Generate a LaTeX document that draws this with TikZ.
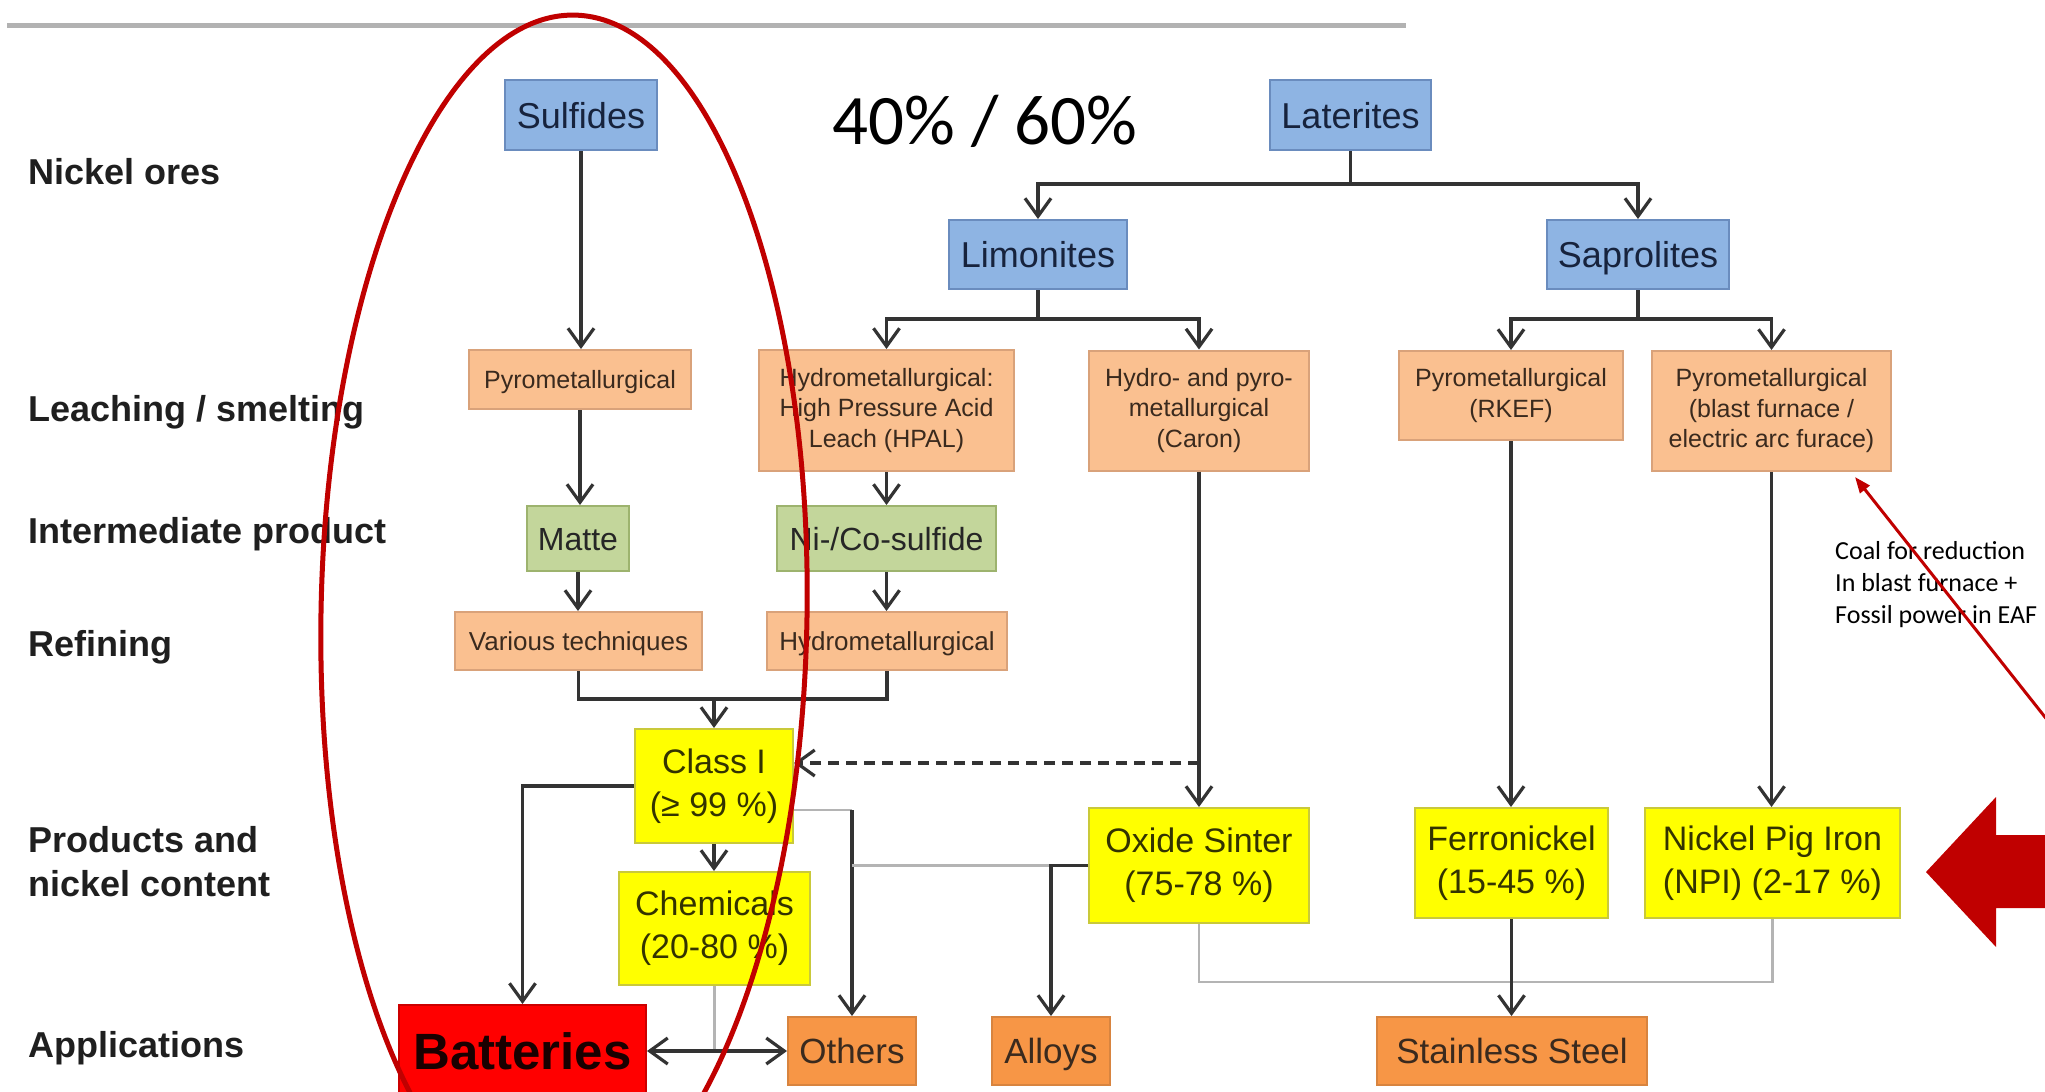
\documentclass[tikz,border=0pt]{standalone}
\usepackage{fontspec}
\setmainfont{Liberation Sans}
\newfontfamily\calfont{Carlito}
\usetikzlibrary{arrows.meta}

\definecolor{bluefill}{HTML}{8EB4E3}
\definecolor{blueedge}{HTML}{6A8CBE}
\definecolor{bluetext}{HTML}{17233D}
\definecolor{peach}{HTML}{FAC090}
\definecolor{peachedge}{HTML}{D9A27A}
\definecolor{peachtext}{HTML}{3A2A1E}
\definecolor{greenfill}{HTML}{C3D69B}
\definecolor{greenedge}{HTML}{9DB36E}
\definecolor{yel}{HTML}{FFFF00}
\definecolor{yeledge}{HTML}{C9C93A}
\definecolor{yeltext}{HTML}{333300}
\definecolor{apporange}{HTML}{F79646}
\definecolor{appedge}{HTML}{D8843F}
\definecolor{battred}{HTML}{FF0000}
\definecolor{darkred}{HTML}{C00000}
\definecolor{linegray}{HTML}{333333}
\definecolor{lightgray}{HTML}{B4B4B4}

\tikzset{
  sz/.style 2 args={minimum width=#1pt, minimum height=#2pt},
  box/.style={draw, line width=2pt, inner sep=0pt, align=center},
  oneline/.style={text height=#1pt, text depth=0pt},
  orebox/.style={box, oneline=26, fill=bluefill, draw=blueedge, text=bluetext, font=\fontsize{36}{43}\selectfont},
  procbox/.style={box, fill=peach, draw=peachedge, text=peachtext, font=\fontsize{25}{30.5}\selectfont},
  interbox/.style={box, oneline=23, fill=greenfill, draw=greenedge, text=black!85, font=\fontsize{32}{38}\selectfont},
  prodbox/.style={box, fill=yel, draw=yeledge, text=yeltext, font=\fontsize{34}{43}\selectfont},
  appbox/.style={box, oneline=25, fill=apporange, draw=appedge, text=peachtext, font=\fontsize{35}{42}\selectfont},
  rowlabel/.style={anchor=base west, inner sep=0pt, font=\bfseries\fontsize{36}{44}\selectfont, text=black!88},
  barb/.tip={Straight Barb[length=18pt,width=26pt,line width=3.2pt]},
  conn/.style={draw=linegray, line width=3.3pt, -barb},
  plainline/.style={draw=linegray, line width=3.3pt},
  faintline/.style={draw=lightgray, line width=2.4pt},
  redline/.style={draw=darkred, line width=5pt},
}

\begin{document}
\begin{tikzpicture}[x=1pt, y=-1pt]
\useasboundingbox (0,0) rectangle (2045,1092);
\fill[white] (0,0) rectangle (2045,1092);
\clip (0,0) rectangle (2045,1092);

% top rule
\draw[line width=5pt, draw=black!30] (7,25) -- (1406,25);

% row labels
\node[rowlabel] (lOres) at (28,184) {Nickel ores};
\node[rowlabel] (lLeach) at (28,421) {Leaching / smelting};
\node[rowlabel] (lInter) at (28,543) {Intermediate product};
\node[rowlabel] (lRef) at (28,656) {Refining};
\node[rowlabel] (lProd1) at (28,852) {Products and};
\node[rowlabel] (lProd2) at (28,896) {nickel content};
\node[rowlabel] (lApp) at (28,1057) {Applications};

% ores
\node[orebox, sz={152}{70}] (sulf) at (581,115) {Sulfides};
\node[orebox, sz={161}{70}] (lat) at (1350.5,115) {Laterites};
\node[orebox, sz={178}{69}] (limo) at (1038,254.5) {Limonites};
\node[orebox, sz={182}{69}] (sapro) at (1638,254.5) {Saprolites};

% leaching / smelting
\node[procbox, oneline=18, sz={222}{59}] (pyro1) at (580,379.5) {Pyrometallurgical};
\node[procbox, sz={255}{121}] (hpal) at (886.5,410.5) {Hydrometallurgical:\\High Pressure Acid\\Leach (HPAL)};
\node[procbox, sz={220}{120}] (caron) at (1199,410.5) {Hydro- and pyro-\\metallurgical\\(Caron)};
\node[procbox, sz={224}{89}] (rkef) at (1511,395.5) {Pyrometallurgical\\(RKEF)};
\node[procbox, sz={239}{120}] (bf) at (1771.5,411) {Pyrometallurgical\\(blast furnace /\\electric arc furace)};

% intermediate
\node[interbox, sz={102}{65}] (matte) at (578,538.5) {Matte};
\node[interbox, sz={219}{65}] (nico) at (886.5,538.5) {Ni-/Co-sulfide};

% refining
\node[procbox, oneline=19, sz={247}{58}, font=\fontsize{26}{30}\selectfont] (vari) at (578.5,641) {Various techniques};
\node[procbox, oneline=19, sz={240}{58}, font=\fontsize{26}{30}\selectfont] (hydro) at (887,641) {Hydrometallurgical};

% products
\node[prodbox, sz={158}{114}] (classI) at (714,786) {Class I\\(≥ 99 \%)};
\node[prodbox, sz={191}{113}] (chem) at (714.5,928.5) {Chemicals\\(20-80 \%)};
\node[prodbox, sz={220}{115}] (oxide) at (1199,865.5) {Oxide Sinter\\(75-78 \%)};
\node[prodbox, sz={193}{110}] (ferro) at (1511.5,863) {Ferronickel\\(15-45 \%)};
\node[prodbox, sz={255}{110}] (npi) at (1772.5,863) {Nickel Pig Iron\\(NPI) (2-17 \%)};

% applications
\node[box, oneline=37, fill=battred, draw=red!80!black, text=black!90!red, font=\bfseries\fontsize{51}{52}\selectfont, sz={247}{92}] (batt) at (522.5,1051) {Batteries};
\node[appbox, sz={128}{68}] (others) at (852,1051) {Others};
\node[appbox, sz={118}{68}] (alloys) at (1051,1051) {Alloys};
\node[appbox, sz={270}{68}] (steel) at (1512,1051) {Stainless Steel};

% junctions
\coordinate (latj) at (1350.5,184);
\coordinate (limj) at (1038,319);
\coordinate (sapj) at (1638,319);
\coordinate (refj) at (714,699);
\coordinate (dashj) at (1199,763);
\coordinate (othj) at (852,810);
\coordinate (steelj) at (1199,982);

% connectors
\draw[conn] (sulf.south) -- (sulf.south |- pyro1.north);
\draw[plainline] (lat.south) -- (latj);
\draw[conn] (latj) -| (limo.north);
\draw[conn] (latj) -| (sapro.north);
\draw[plainline] (limo.south) -- (limj);
\draw[conn] (limj) -| (hpal.north);
\draw[conn] (limj) -| (caron.north);
\draw[plainline] (sapro.south) -- (sapj);
\draw[conn] (sapj) -| (rkef.north);
\draw[conn] (sapj) -| (bf.north);

\draw[conn] (pyro1.south) -- (pyro1.south |- matte.north);
\draw[conn] (hpal.south) -- (hpal.south |- nico.north);
\draw[conn] (matte.south) -- (matte.south |- vari.north);
\draw[conn] (nico.south) -- (nico.south |- hydro.north);
\draw[plainline] (vari.south) |- (refj) -| (hydro.south);
\draw[conn] (refj) -- (classI.north);
\draw[conn] (classI.south) -- (classI.south |- chem.north);

\draw[conn] (caron.south) -- (oxide.north);
\draw[conn, dash pattern=on 11pt off 7pt] (dashj) -- (dashj -| classI.east);
\draw[conn] (rkef.south) -- (rkef.south |- ferro.north);
\draw[conn] (bf.south) -- (bf.south |- npi.north);

\draw[conn] (classI.west) -| (batt.north);
\draw[faintline] (classI.east |- othj) -- (othj);
\draw[conn] (othj) -- (othj |- others.north);
\draw[faintline] (oxide.west) -- (oxide.west -| othj);
\draw[conn] (oxide.west) -| (alloys.north);
\draw[faintline] (chem.south) -- (chem.south |- batt.east);
\draw[conn, barb-barb] (batt.east) -- (batt.east -| others.west);
\draw[faintline] (oxide.south) |- (steelj -| npi.south) -- (npi.south);
\draw[conn] (ferro.south) -- (ferro.south |- steel.north);

% annotations
\node[inner sep=0pt, font=\calfont\fontsize{71}{80}\selectfont] (pct) at (985,121) {40\% / 60\%};
\node[anchor=west, align=left, inner sep=0pt, font=\calfont\fontsize{26}{32}\selectfont] (coal) at (1835,585) {Coal for reduction\\In blast furnace +\\Fossil power in EAF};

\draw[redline, rotate around={-1:(564,615)}] (564,615) ellipse [x radius=243pt, y radius=600pt];

\coordinate (coalTip) at (1855,477);
\coordinate (coalEnd) at (2075,755);
\draw[draw=darkred, line width=3pt, -{Triangle[length=16pt,width=12pt]}] (coalEnd) -- (coalTip);

\fill[darkred] (1926,872) -- (1996,797) -- (1996,835) -- (2060,835) -- (2060,908) -- (1996,908) -- (1996,947) -- cycle;
\end{tikzpicture}
\end{document}
